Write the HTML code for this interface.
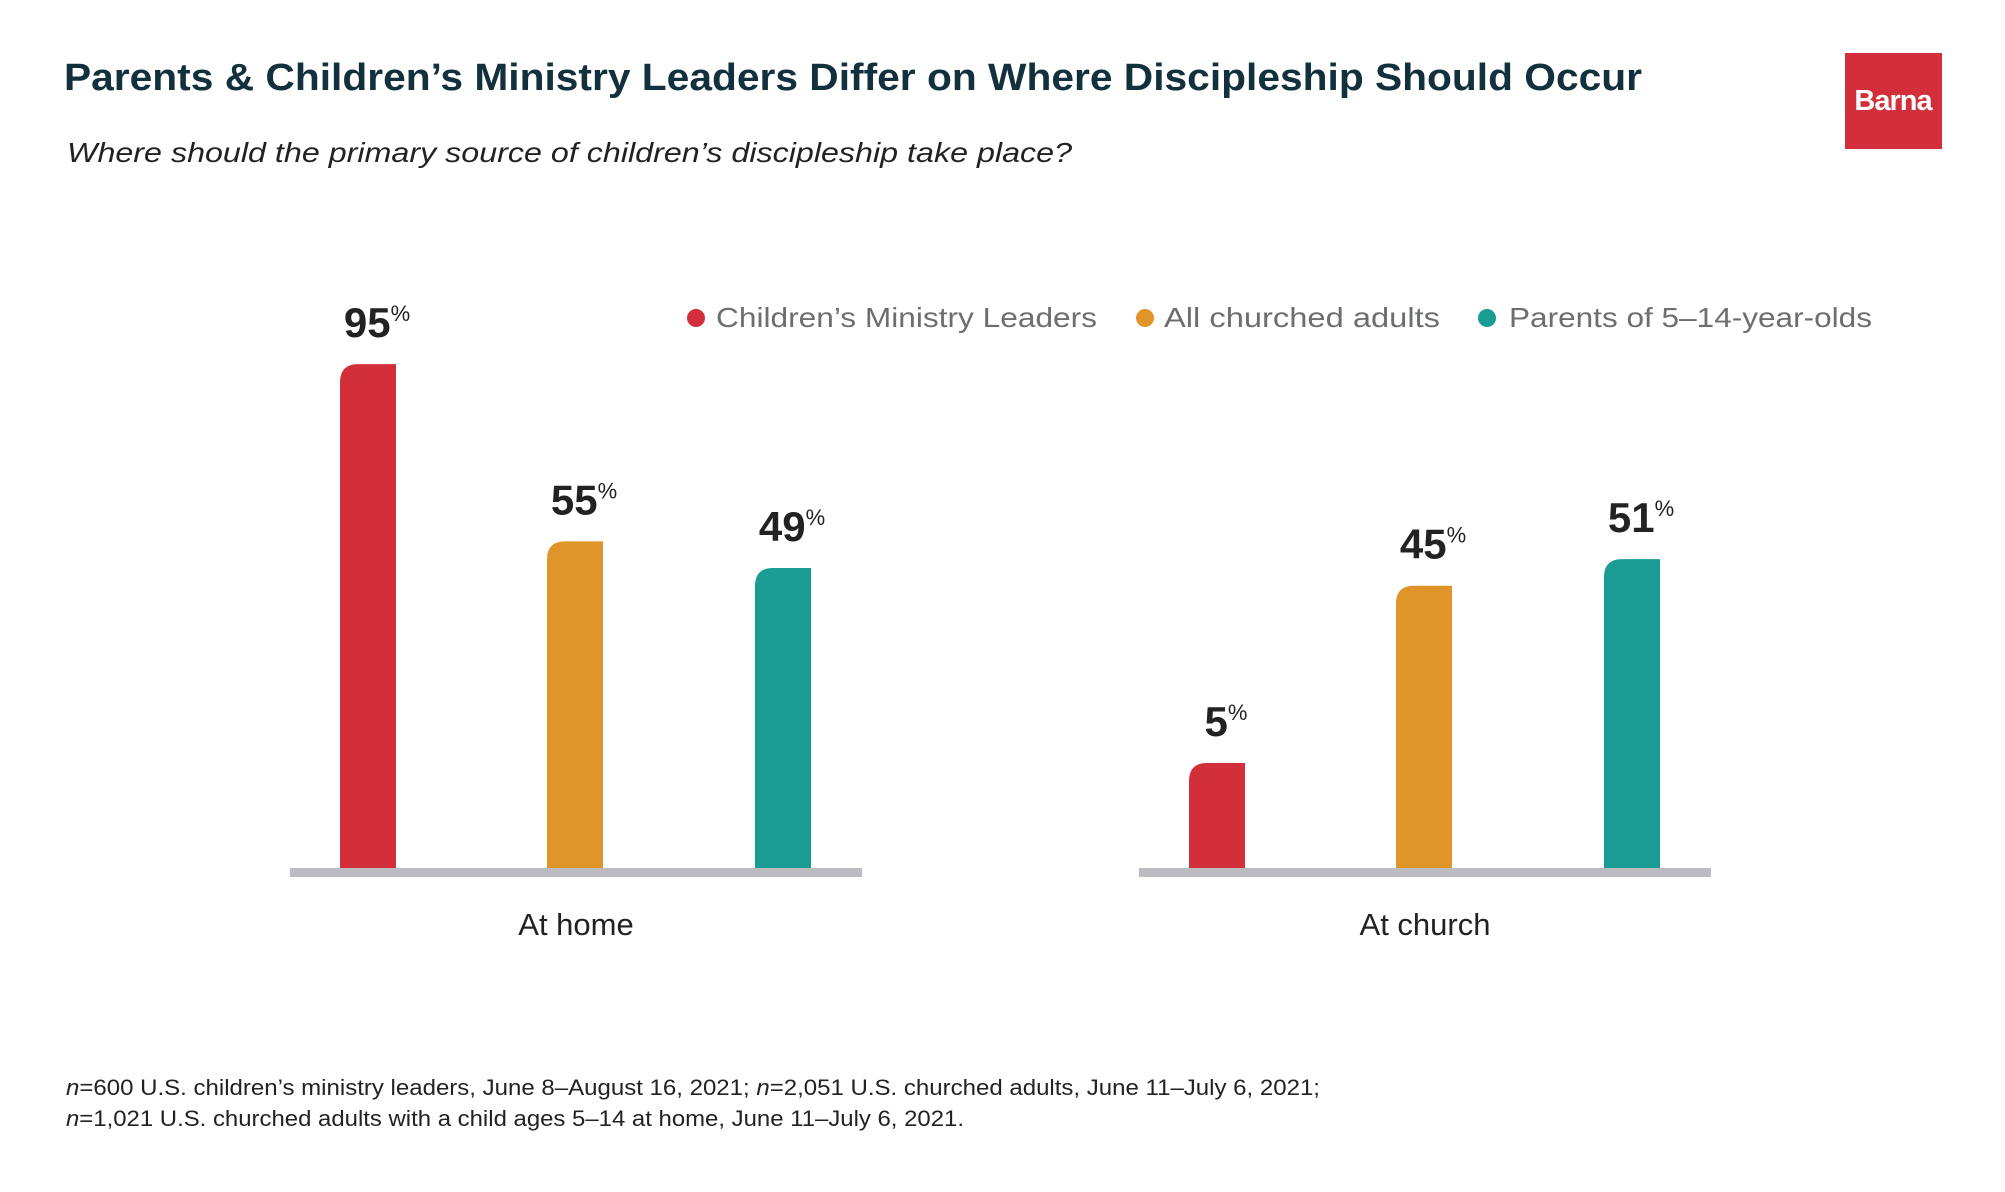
<!DOCTYPE html>
<html><head><meta charset="utf-8"><style>
html,body{margin:0;padding:0;background:#fff;}
svg{display:block;font-family:"Liberation Sans",sans-serif;}
</style></head><body>
<svg id="chart" width="2005" height="1192" viewBox="0 0 2005 1192" xmlns="http://www.w3.org/2000/svg">
<text x="64" y="90" font-size="38" font-weight="900" fill="#13303d" textLength="1578" lengthAdjust="spacingAndGlyphs">Parents &amp; Children’s Ministry Leaders Differ on Where Discipleship Should Occur</text>
<text x="67" y="162" font-size="28" font-style="italic" fill="#222" textLength="1005" lengthAdjust="spacingAndGlyphs">Where should the primary source of children’s discipleship take place?</text>
<g>
<rect x="1845" y="53" width="97" height="96" fill="#d22f3a"/>
<text x="1893" y="110" font-size="29" font-weight="bold" fill="#fff" text-anchor="middle" letter-spacing="-1">Barna</text>
</g>
<g>
<g><circle cx="696" cy="318" r="9" fill="#d22f3a"/><text x="716" y="327" font-size="28" fill="#6d6e71" textLength="381" lengthAdjust="spacingAndGlyphs">Children’s Ministry Leaders</text></g>
<g><circle cx="1145" cy="318" r="9" fill="#e0952a"/><text x="1164" y="327" font-size="28" fill="#6d6e71" textLength="276" lengthAdjust="spacingAndGlyphs">All churched adults</text></g>
<g><circle cx="1487" cy="318" r="9" fill="#1a9c94"/><text x="1509" y="327" font-size="28" fill="#6d6e71" textLength="363" lengthAdjust="spacingAndGlyphs">Parents of 5–14-year-olds</text></g>
</g>
<g id="plot"></g>
<g font-size="22" fill="#222">
<text x="66" y="1095" textLength="1254" lengthAdjust="spacingAndGlyphs"><tspan font-style="italic">n</tspan>=600 U.S. children’s ministry leaders, June 8–August 16, 2021; <tspan font-style="italic">n</tspan>=2,051 U.S. churched adults, June 11–July 6, 2021;</text>
<text x="66" y="1126" textLength="898" lengthAdjust="spacingAndGlyphs"><tspan font-style="italic">n</tspan>=1,021 U.S. churched adults with a child ages 5–14 at home, June 11–July 6, 2021.</text>
</g>
</svg>
<script>
const categories = ["At home", "At church"];
const seriesNames = ["Children’s Ministry Leaders", "All churched adults", "Parents of 5–14-year-olds"];
const leaders = [95, 5];
const adults = [55, 45];
const parents = [49, 51];
const colors = ["#d22f3a", "#e0952a", "#1a9c94"];

const NS = "http://www.w3.org/2000/svg";
const plot = document.getElementById("plot");
const baseY = 868;
function yScale(v){ return baseY - (82.8 + 4.433 * v); }
const groupLeft = [290, 1139];
const groupWidth = 572;
const barW = 56;
const barOffsets = [50, 257, 465];
const series = [leaders, adults, parents];

categories.forEach((cat, gi) => {
  const g0 = groupLeft[gi];
  const axis = document.createElementNS(NS, "rect");
  axis.setAttribute("x", g0); axis.setAttribute("y", baseY);
  axis.setAttribute("width", groupWidth); axis.setAttribute("height", 9);
  axis.setAttribute("fill", "#bcbcc0");
  
  
  plot.appendChild(axis);
  const lab = document.createElementNS(NS, "text");
  lab.setAttribute("x", g0 + groupWidth/2); lab.setAttribute("y", 935);
  lab.setAttribute("font-size", "31"); lab.setAttribute("fill", "#222");
  lab.setAttribute("text-anchor", "middle");
  lab.textContent = cat;
  
  
  plot.appendChild(lab);
  series.forEach((arr, si) => {
    const v = arr[gi];
    const x = g0 + barOffsets[si];
    const top = yScale(v);
    const h = baseY - top;
    const r = Math.min(18, h);
    const p = document.createElementNS(NS, "path");
    p.setAttribute("d", `M${x},${baseY} L${x},${top + r} Q${x},${top} ${x + r},${top} L${x + barW},${top} L${x + barW},${baseY} Z`);
    p.setAttribute("fill", colors[si]);
    
    
    plot.appendChild(p);
    const t = document.createElementNS(NS, "text");
    t.setAttribute("x", x + barW/2 + 9); t.setAttribute("y", top - 27);
    t.setAttribute("text-anchor", "middle");
    t.setAttribute("font-size", "42"); t.setAttribute("font-weight", "bold"); t.setAttribute("fill", "#222");
    const n = document.createElementNS(NS, "tspan"); n.textContent = v;
    const pc = document.createElementNS(NS, "tspan"); pc.textContent = "%";
    pc.setAttribute("font-size", "22"); pc.setAttribute("font-weight", "normal"); pc.setAttribute("dy", "-16");
    t.appendChild(n); t.appendChild(pc);
    
    
    plot.appendChild(t);
  });
});
</script>
</body></html>
